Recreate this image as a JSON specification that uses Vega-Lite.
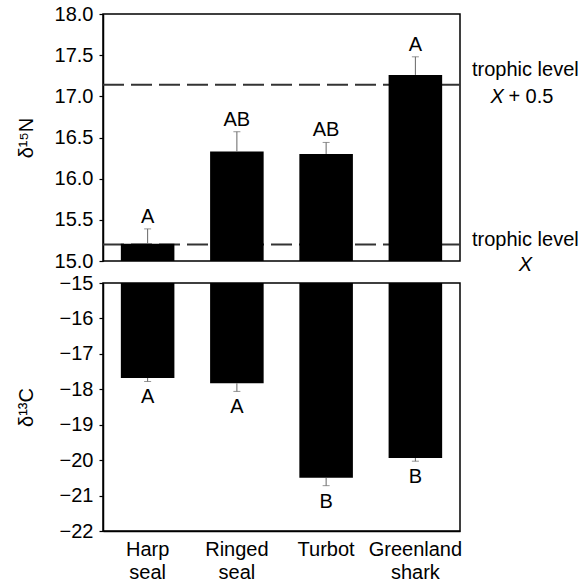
{
  "$schema": "https://vega.github.io/schema/vega-lite/v6.json",
  "padding": {"left": 15, "top": 3, "right": 0, "bottom": 0},
  "background": "white",
  "bounds": "flush",
  "spacing": 22,
  "config": {
    "font": "Liberation Sans",
    "view": {"stroke": "black", "strokeWidth": 1.5},
    "axis": {"grid": false, "domainColor": "black", "domainWidth": 1.5, "tickColor": "black", "tickWidth": 1.2, "labelColor": "black", "labelFontSize": 20, "labelFont": "Liberation Sans", "titleFont": "Liberation Sans", "titleFontSize": 20, "titleFontWeight": "normal", "titleColor": "black", "labelOverlap": false},
    "text": {"font": "Liberation Sans", "fontSize": 20, "color": "black"}
  },
  "datasets": {
    "nitrogen": [
      {"species": "Harp seal", "mean": 15.21, "upper": 15.39, "letter": "A"},
      {"species": "Ringed seal", "mean": 16.33, "upper": 16.57, "letter": "AB"},
      {"species": "Turbot", "mean": 16.30, "upper": 16.44, "letter": "AB"},
      {"species": "Greenland shark", "mean": 17.26, "upper": 17.48, "letter": "A"}
    ],
    "carbon": [
      {"species": "Harp seal", "mean": -17.68, "lower": -17.78, "letter": "A"},
      {"species": "Ringed seal", "mean": -17.83, "lower": -18.06, "letter": "A"},
      {"species": "Turbot", "mean": -20.50, "lower": -20.72, "letter": "B"},
      {"species": "Greenland shark", "mean": -19.94, "lower": -20.03, "letter": "B"}
    ],
    "levels": [
      {"level": "X", "value": 15.2},
      {"level": "X + 0.5", "value": 17.14}
    ]
  },
  "vconcat": [
    {
      "width": 357,
      "height": 247,
      "data": {"name": "nitrogen"},
      "layer": [
        {
          "data": {"name": "levels"},
          "mark": {"type": "rule", "strokeDash": [21, 7], "strokeWidth": 2, "color": "#333"},
          "encoding": {
            "y": {"field": "value", "type": "quantitative", "title": "δ¹⁵N",
              "scale": {"domain": [15, 18], "nice": false, "zero": false},
              "axis": {"values": [15, 15.5, 16, 16.5, 17, 17.5, 18], "format": ".1f", "tickSize": 4, "labelPadding": 6, "labelOverlap": false, "titleX": -77, "titleBaseline": "middle"}}
          }
        },
        {
          "mark": {"type": "bar", "color": "black"},
          "encoding": {
            "x": {"field": "species", "type": "nominal", "sort": null, "axis": null, "scale": {"domain": ["Harp seal", "Ringed seal", "Turbot", "Greenland shark"], "paddingInner": 0.4, "paddingOuter": 0.2}},
            "y": {"field": "mean", "type": "quantitative", "title": "δ¹⁵N"},
            "y2": {"datum": 15}
          }
        },
        {
          "mark": {"type": "rule", "color": "#666", "strokeWidth": 1},
          "encoding": {
            "x": {"field": "species", "type": "nominal", "sort": null},
            "y": {"field": "mean", "type": "quantitative", "title": "δ¹⁵N"},
            "y2": {"field": "upper"}
          }
        },
        {
          "mark": {"type": "tick", "color": "#666", "size": 7, "thickness": 1, "orient": "horizontal"},
          "encoding": {
            "x": {"field": "species", "type": "nominal", "sort": null},
            "y": {"field": "upper", "type": "quantitative", "title": "δ¹⁵N"}
          }
        },
        {
          "mark": {"type": "text", "baseline": "bottom", "dy": -2, "fontSize": 20},
          "encoding": {
            "x": {"field": "species", "type": "nominal", "sort": null},
            "y": {"field": "upper", "type": "quantitative", "title": "δ¹⁵N"},
            "text": {"field": "letter"}
          }
        },
        {
          "data": {"name": "levels"},
          "transform": [{"filter": "datum.value > 16"}],
          "mark": {"type": "text", "text": "trophic level", "align": "center", "baseline": "middle", "dx": 110, "dy": -15, "fontSize": 20},
          "encoding": {
            "x": {"datum": "Greenland shark"},
            "y": {"field": "value", "type": "quantitative", "title": "δ¹⁵N"}
          }
        },
        {
          "data": {"name": "levels"},
          "transform": [{"filter": "datum.value > 16"}],
          "mark": {"type": "text", "text": "X", "fontStyle": "italic", "align": "left", "baseline": "middle", "dx": 75, "dy": 12, "fontSize": 20},
          "encoding": {
            "x": {"datum": "Greenland shark"},
            "y": {"field": "value", "type": "quantitative", "title": "δ¹⁵N"}
          }
        },
        {
          "data": {"name": "levels"},
          "transform": [{"filter": "datum.value > 16"}],
          "mark": {"type": "text", "text": "+ 0.5", "align": "left", "baseline": "middle", "dx": 93, "dy": 12, "fontSize": 20},
          "encoding": {
            "x": {"datum": "Greenland shark"},
            "y": {"field": "value", "type": "quantitative", "title": "δ¹⁵N"}
          }
        },
        {
          "data": {"name": "levels"},
          "transform": [{"filter": "datum.value < 16"}],
          "mark": {"type": "text", "text": "trophic level", "align": "center", "baseline": "middle", "dx": 110, "dy": -5, "fontSize": 20},
          "encoding": {
            "x": {"datum": "Greenland shark"},
            "y": {"field": "value", "type": "quantitative", "title": "δ¹⁵N"}
          }
        },
        {
          "data": {"name": "levels"},
          "transform": [{"filter": "datum.value < 16"}],
          "mark": {"type": "text", "text": "X", "fontStyle": "italic", "align": "center", "baseline": "middle", "dx": 110, "dy": 20, "fontSize": 20},
          "encoding": {
            "x": {"datum": "Greenland shark"},
            "y": {"field": "value", "type": "quantitative", "title": "δ¹⁵N"}
          }
        }
      ]
    },
    {
      "width": 357,
      "height": 248,
      "data": {"name": "carbon"},
      "encoding": {
        "x": {"field": "species", "type": "nominal", "sort": null, "title": null,
          "scale": {"domain": ["Harp seal", "Ringed seal", "Turbot", "Greenland shark"], "paddingInner": 0.4, "paddingOuter": 0.2},
          "axis": {"labelAngle": 0, "ticks": false, "labelPadding": 8, "labelExpr": "split(datum.label, ' ')", "labelLineHeight": 23, "labelFontSize": 20, "labelBaseline": "top"}}
      },
      "layer": [
        {
          "mark": {"type": "bar", "color": "black"},
          "encoding": {
            "y": {"field": "mean", "type": "quantitative", "title": "δ¹³C",
              "scale": {"domain": [-22, -15], "nice": false, "zero": false},
              "axis": {"values": [-22, -21, -20, -19, -18, -17, -16, -15], "tickCount": 8, "tickMinStep": 1, "format": ".0f", "tickSize": 4, "labelPadding": 6, "labelOverlap": false, "labelBound": false, "titleX": -77, "titleBaseline": "middle"}},
            "y2": {"datum": -15}
          }
        },
        {
          "mark": {"type": "rule", "color": "#666", "strokeWidth": 1},
          "encoding": {
            "y": {"field": "mean", "type": "quantitative", "title": "δ¹³C",
              "axis": {"values": [-22, -21, -20, -19, -18, -17, -16, -15], "tickCount": 8, "format": ".0f", "tickSize": 4, "labelPadding": 6, "labelOverlap": false, "titleX": -77, "titleBaseline": "middle"}},
            "y2": {"field": "lower"}
          }
        },
        {
          "mark": {"type": "tick", "color": "#666", "size": 7, "thickness": 1, "orient": "horizontal"},
          "encoding": {
            "y": {"field": "lower", "type": "quantitative", "title": "δ¹³C",
              "axis": {"values": [-22, -21, -20, -19, -18, -17, -16, -15], "tickCount": 8, "format": ".0f", "tickSize": 4, "labelPadding": 6, "labelOverlap": false, "titleX": -77, "titleBaseline": "middle"}}
          }
        },
        {
          "mark": {"type": "text", "baseline": "top", "dy": 6, "fontSize": 20},
          "encoding": {
            "y": {"field": "lower", "type": "quantitative", "title": "δ¹³C",
              "axis": {"values": [-22, -21, -20, -19, -18, -17, -16, -15], "tickCount": 8, "format": ".0f", "tickSize": 4, "labelPadding": 6, "labelOverlap": false, "titleX": -77, "titleBaseline": "middle"}},
            "text": {"field": "letter"}
          }
        }
      ]
    }
  ]
}
